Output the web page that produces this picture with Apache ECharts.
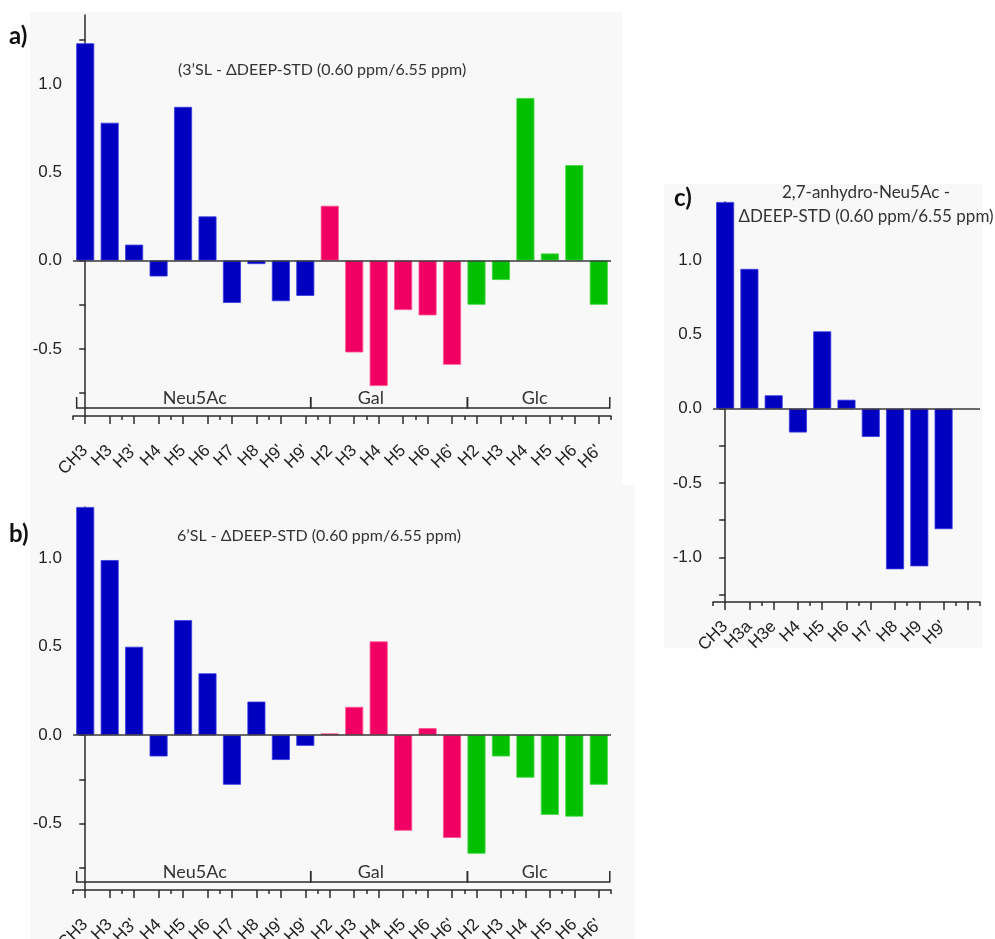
<!DOCTYPE html>
<html>
<head>
<meta charset="utf-8">
<script src="https://cdn.jsdelivr.net/npm/echarts@6/dist/echarts.min.js"></script>
<style>
html,body{margin:0;padding:0;background:#fff;}
#chart{width:995px;height:939px;}
</style>
</head>
<body>
<div id="chart"></div>
<script>
// ---------- data ----------
const catsAB = ['CH3','H3',"H3'",'H4','H5','H6','H7','H8',"H9'","H9'",'H2','H3','H4','H5','H6',"H6'",'H2','H3','H4','H5','H6',"H6'"];
const catsC = ['CH3','H3a','H3e','H4','H5','H6','H7','H8','H9',"H9'",''];

const aNeu5Ac = [1.23, 0.78, 0.09, -0.09, 0.87, 0.25, -0.24, -0.02, -0.23, -0.20];
const aGal    = [0.31, -0.52, -0.71, -0.28, -0.31, -0.59];
const aGlc    = [-0.25, -0.11, 0.92, 0.04, 0.54, -0.25];

const bNeu5Ac = [1.29, 0.99, 0.50, -0.12, 0.65, 0.35, -0.28, 0.19, -0.14, -0.06];
const bGal    = [0.01, 0.16, 0.53, -0.54, 0.04, -0.58];
const bGlc    = [-0.67, -0.12, -0.24, -0.45, -0.46, -0.28];

const cNeu5Ac = [1.39, 0.94, 0.09, -0.16, 0.52, 0.06, -0.19, -1.08, -1.06, -0.81];

const groupNames = ['Neu5Ac', 'Gal', 'Glc'];
const bracketEdges = [-0.35, 9.22, 15.63, 21.45];   // category-index units
const groupLabelPos = [4.48, 11.68, 18.38];          // category-index units

const yTicksAB  = [-0.75, -0.5, -0.25, 0, 0.25, 0.5, 0.75, 1.0, 1.25];
const yLabelsAB = [-0.5, 0, 0.5, 1.0];
const yTicksC   = [-1.25, -1.0, -0.75, -0.5, -0.25, 0, 0.25, 0.5, 0.75, 1.0, 1.25];
const yLabelsC  = [-1.0, -0.5, 0, 0.5, 1.0];

const rangeA = [-0.88, 1.39];
const rangeB = [-0.875, 1.29];
const rangeC = [-1.30, 1.39];

const titleA = '(3\u2019SL - \u0394DEEP-STD (0.60 ppm/6.55 ppm)';
const titleB = '6\u2019SL - \u0394DEEP-STD (0.60 ppm/6.55 ppm)';
const titleC = '2,7-anhydro-Neu5Ac -\n\u0394DEEP-STD (0.60 ppm/6.55 ppm)';

// ---------- styling ----------
const BLUE = '#0000C0', PINK = '#F00062', GREEN = '#00C000';
const BORDER = {'#0000C0':'#3a3ae0', '#F00062':'#ff4f8e', '#00C000':'#3ed83e'};
const AX = '#2b2b2b';
const TICKFONT = '"Liberation Sans", Arial, sans-serif';
const TXTFONT = 'Lato, "Open Sans", sans-serif';

const grids = [
  {left: 73, top: 15, width: 538, height: 401, containLabel: false, outerBoundsMode: 'none'},
  {left: 73, top: 507, width: 538, height: 383, containLabel: false, outerBoundsMode: 'none'},
  {left: 713, top: 202, width: 267, height: 400, containLabel: false, outerBoundsMode: 'none'}
];

function pad(values, offset, total) {
  const arr = new Array(total).fill('-');
  values.forEach((v, i) => { arr[offset + i] = v; });
  return arr;
}

const xAxes = [], yAxes = [], series = [];

function addPanel(gi, cats, range, yTicks, yLabels, groupsData, withBrackets, labelMargin) {
  const n = cats.length;
  const xMain = xAxes.length;
  xAxes.push({
    type: 'category', gridIndex: gi, data: cats, position: 'bottom',
    axisLine: {show: true, onZero: false, lineStyle: {color: AX, width: 1.5}},
    axisTick: {show: true, alignWithLabel: true, length: 8, lineStyle: {color: AX, width: 1.5}},
    axisLabel: {interval: 0, rotate: 45, fontSize: 17, color: '#222', fontFamily: TICKFONT, margin: labelMargin},
    splitLine: {show: false}
  });
  xAxes.push({
    type: 'category', gridIndex: gi, data: cats, position: 'bottom',
    axisLine: {show: false, onZero: false},
    axisTick: {show: true, length: 4, lineStyle: {color: AX, width: 1.5}},
    axisLabel: {show: false}, splitLine: {show: false}
  });
  const xVal = xAxes.length;
  xAxes.push({type: 'value', gridIndex: gi, min: -0.5, max: n - 0.5, show: false});
  const yi = yAxes.length;
  yAxes.push({
    type: 'value', gridIndex: gi, min: range[0], max: range[1],
    axisLine: {show: true, lineStyle: {color: AX, width: 1.5}},
    axisTick: {show: true, length: 6, customValues: yTicks, lineStyle: {color: AX, width: 1.5}},
    axisLabel: {customValues: yLabels, fontSize: 17, color: '#222', fontFamily: TICKFONT, margin: 11,
      formatter: v => v.toFixed(1)},
    splitLine: {show: false}
  });
  groupsData.forEach((g, k) => {
    series.push({
      type: 'bar', xAxisIndex: xMain, yAxisIndex: yi,
      data: pad(g.values, g.offset, n),
      barWidth: 18, barGap: '-100%',
      itemStyle: {color: g.color, borderColor: BORDER[g.color], borderWidth: 0.8},
      silent: true, animation: false,
      markLine: k === 0 ? {
        silent: true, symbol: 'none', animation: false,
        label: {show: false},
        lineStyle: {color: '#3a3a3a', width: 1.5, type: 'solid'},
        data: [{yAxis: 0}]
      } : undefined
    });
  });
  if (withBrackets) {
    series.push({
      type: 'custom', xAxisIndex: xVal, yAxisIndex: yi,
      data: groupNames.map((g, i) => [groupLabelPos[i]]),
      silent: true, animation: false, clip: false,
      renderItem: function (params, api) {
        const i = params.dataIndex;
        const yb = api.coord([0, range[0]])[1];
        const x0 = api.coord([bracketEdges[i], range[0]])[0];
        const x1 = api.coord([bracketEdges[i + 1], range[0]])[0];
        const xl = api.coord([groupLabelPos[i], range[0]])[0];
        return {
          type: 'group',
          children: [
            {type: 'polyline', shape: {points: [[x0, yb - 19], [x0, yb - 8], [x1, yb - 8], [x1, yb - 19]]},
             style: {stroke: AX, lineWidth: 1.5, fill: null}},
            {type: 'text', style: {text: groupNames[i], x: xl, y: yb - 18, align: 'center', verticalAlign: 'middle',
             fontSize: 18, fontFamily: TXTFONT, fill: '#333'}}
          ]
        };
      }
    });
  }
}

addPanel(0, catsAB, rangeA, yTicksAB, yLabelsAB, [
  {values: aNeu5Ac, offset: 0, color: BLUE},
  {values: aGal, offset: 10, color: PINK},
  {values: aGlc, offset: 16, color: GREEN}
], true, 32);
addPanel(1, catsAB, rangeB, yTicksAB, yLabelsAB, [
  {values: bNeu5Ac, offset: 0, color: BLUE},
  {values: bGal, offset: 10, color: PINK},
  {values: bGlc, offset: 16, color: GREEN}
], true, 32);
addPanel(2, catsC, rangeC, yTicksC, yLabelsC, [
  {values: cNeu5Ac, offset: 0, color: BLUE}
], false, 22);

const BG = '#f8f8f8';
const option = {
  animation: false,
  backgroundColor: '#ffffff',
  grid: grids,
  xAxis: xAxes,
  yAxis: yAxes,
  series: series,
  title: [
    {text: titleA, left: 178, top: 62, padding: 0,
     textStyle: {fontSize: 16, fontWeight: 'normal', color: '#333', fontFamily: TXTFONT}},
    {text: titleB, left: 177, top: 528, padding: 0,
     textStyle: {fontSize: 16, fontWeight: 'normal', color: '#333', fontFamily: TXTFONT}},
    {text: titleC, left: 866, top: 181, padding: 0, textAlign: 'center',
     textStyle: {fontSize: 17, fontWeight: 'normal', color: '#333', fontFamily: TXTFONT, lineHeight: 24, align: 'center'}}
  ],
  graphic: [
    {type: 'rect', z: -10, silent: true, shape: {x: 30, y: 12, width: 592, height: 473}, style: {fill: BG}},
    {type: 'rect', z: -10, silent: true, shape: {x: 30, y: 485, width: 605, height: 454}, style: {fill: BG}},
    {type: 'rect', z: -10, silent: true, shape: {x: 664, y: 184, width: 318, height: 464}, style: {fill: BG}},
    {type: 'text', left: 9, top: 24, style: {text: 'a)', font: 'bold 24px Lato, "Open Sans", sans-serif', fill: '#111'}},
    {type: 'text', left: 9, top: 522, style: {text: 'b)', font: 'bold 24px Lato, "Open Sans", sans-serif', fill: '#111'}},
    {type: 'text', left: 674, top: 186, style: {text: 'c)', font: 'bold 24px Lato, "Open Sans", sans-serif', fill: '#111'}}
  ]
};

const chart = echarts.init(document.getElementById('chart'), null, {renderer: 'canvas'});
chart.setOption(option);
</script>
</body>
</html>
